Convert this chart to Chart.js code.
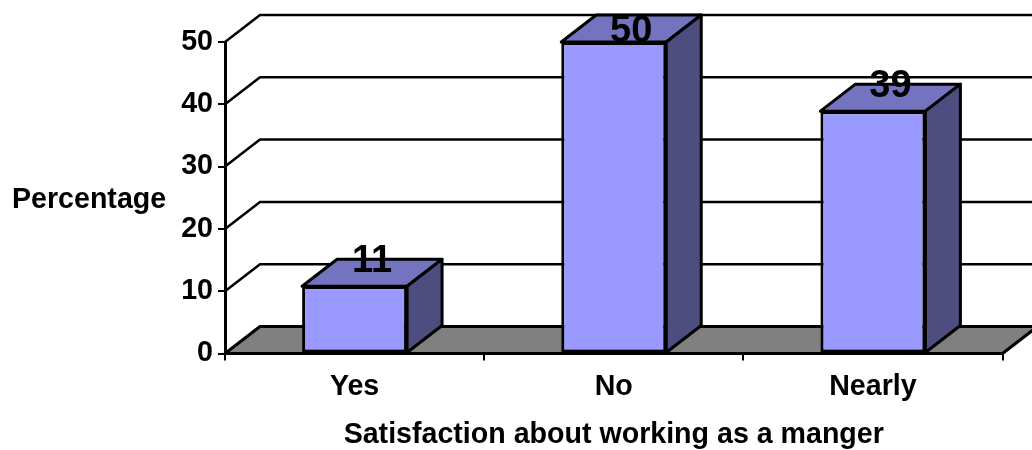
<!DOCTYPE html>
<html>
<head>
<meta charset="utf-8">
<style>
  html, body { margin: 0; padding: 0; background: #fff; }
  canvas { display: block; }
</style>
<script src="https://cdn.jsdelivr.net/npm/chart.js@4"></script>
</head>
<body>
<canvas id="satisfactionChart" width="1032" height="450"></canvas>
<script>
const categories = ['Yes', 'No', 'Nearly'];
const percentages = [10.8, 50, 38.9];
const valueLabels = ['11', '50', '39'];
const yTicks = [0, 10, 20, 30, 40, 50];
const xTitle = 'Satisfaction about working as a manger';
const yTitle = 'Percentage';

const fontFamily = '"Liberation Sans", Arial, sans-serif';
const textSize = 28.6;
const depthX = 35;
const depthY = 27;

function polygon(ctx, points, fill) {
  ctx.beginPath();
  points.forEach((p, i) => (i ? ctx.lineTo(p[0], p[1]) : ctx.moveTo(p[0], p[1])));
  ctx.closePath();
  if (fill) {
    ctx.fillStyle = fill;
    ctx.fill();
  }
  ctx.stroke();
}

// back wall lines and the grey floor, behind the bars
const wallPlugin = {
  id: 'wall',
  beforeDatasetsDraw(chart) {
    const ctx = chart.ctx;
    const area = chart.chartArea;
    const y = chart.scales.y;
    ctx.save();
    ctx.strokeStyle = '#000';
    ctx.lineJoin = 'round';
    ctx.lineWidth = 2.5;
    yTicks.forEach(v => {
      if (v === 0) return;
      const py = y.getPixelForValue(v);
      ctx.beginPath();
      ctx.moveTo(area.left, py);
      ctx.lineTo(area.left + depthX, py - depthY);
      ctx.lineTo(area.right + depthX, py - depthY);
      ctx.stroke();
    });
    ctx.lineWidth = 3;
    polygon(ctx, [
      [area.left, area.bottom],
      [area.left + depthX, area.bottom - depthY],
      [area.right + depthX, area.bottom - depthY],
      [area.right, area.bottom]
    ], '#808080');
    ctx.restore();
  },
  // top and side faces of the bars, then the value labels and y title
  afterDatasetsDraw(chart) {
    const ctx = chart.ctx;
    const y = chart.scales.y;
    const bars = chart.getDatasetMeta(0).data;
    ctx.save();
    ctx.strokeStyle = '#000';
    ctx.lineWidth = 3;
    ctx.lineJoin = 'round';
    bars.forEach(bar => {
      const left = bar.x - bar.width / 2;
      const right = bar.x + bar.width / 2;
      polygon(ctx, [
        [left, bar.y],
        [left + depthX, bar.y - depthY],
        [right + depthX, bar.y - depthY],
        [right, bar.y]
      ], '#7373BF');
      polygon(ctx, [
        [right, bar.y],
        [right + depthX, bar.y - depthY],
        [right + depthX, bar.base - depthY],
        [right, bar.base]
      ], '#4D4D80');
    });

    ctx.fillStyle = '#000';
    ctx.textAlign = 'center';
    ctx.textBaseline = 'alphabetic';
    ctx.font = 'bold 38px ' + fontFamily;
    const topLimit = y.getPixelForValue(50);
    bars.forEach((bar, i) => {
      const baseline = Math.max(bar.y - 14, topLimit);
      ctx.fillText(valueLabels[i], bar.x + depthX / 2, baseline);
    });

    ctx.textAlign = 'left';
    ctx.font = 'bold ' + textSize + 'px ' + fontFamily;
    ctx.fillText(yTitle, 12, 208);
    ctx.restore();
  }
};

new Chart(document.getElementById('satisfactionChart').getContext('2d'), {
  type: 'bar',
  data: {
    labels: categories,
    datasets: [{
      data: percentages,
      backgroundColor: '#9999FF',
      borderColor: '#000',
      borderWidth: 3,
      borderSkipped: false,
      barPercentage: 0.405,
      categoryPercentage: 1,
      clip: false
    }]
  },
  options: {
    responsive: false,
    animation: false,
    layout: { padding: { top: 42, right: 29.5, left: 0, bottom: 0 } },
    plugins: { legend: { display: false }, tooltip: { enabled: false } },
    scales: {
      x: {
        afterFit(scale) { scale.height = 96.5; },
        grid: { drawOnChartArea: false, color: '#000', lineWidth: 2, tickLength: 7 },
        border: { color: '#000', width: 3 },
        ticks: {
          color: '#000',
          padding: 9,
          maxRotation: 0,
          font: { family: fontFamily, size: textSize, weight: 'bold' }
        },
        title: {
          display: true,
          text: xTitle,
          color: '#000',
          padding: { top: 0, bottom: -2 },
          font: { family: fontFamily, size: textSize, weight: 'bold' }
        }
      },
      y: {
        min: 0,
        max: 50,
        afterFit(scale) { scale.width = 225; },
        afterBuildTicks(scale) { scale.ticks = yTicks.map(v => ({ value: v })); },
        grid: { drawOnChartArea: false, color: '#000', lineWidth: 2, tickLength: 7 },
        border: { color: '#000', width: 3 },
        ticks: {
          color: '#000',
          padding: 5,
          font: { family: fontFamily, size: textSize, weight: 'bold' }
        }
      }
    }
  },
  plugins: [wallPlugin]
});
</script>
</body>
</html>
